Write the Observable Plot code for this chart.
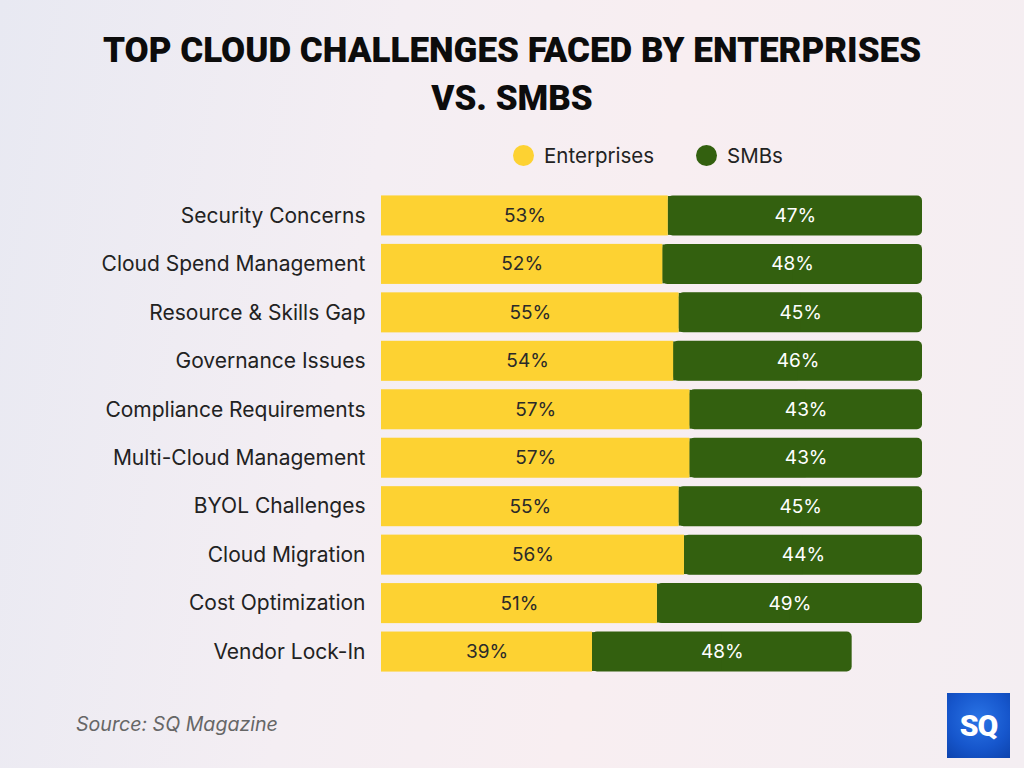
<!DOCTYPE html>
<html>
<head>
<meta charset="utf-8">
<script src="https://cdn.jsdelivr.net/npm/d3@7"></script>
<script src="https://cdn.jsdelivr.net/npm/@observablehq/plot@0.6"></script>
<style>
  html, body { margin: 0; padding: 0; }
  body {
    width: 1024px; height: 768px; overflow: hidden; position: relative;
    background: linear-gradient(100deg, #e8e9f2 0%, #f4eef3 35%, #f8eef1 60%, #f4eef2 100%);
    font-family: Inter, Roboto, "Noto Sans", sans-serif;
  }
  #title {
    position: absolute; left: 0; top: 27px; width: 1024px; text-align: center;
    font-family: Roboto, sans-serif; font-weight: 900; font-size: 35px; line-height: 48px;
    color: #0c0c0c;
  }
  #legend { position: absolute; top: 0; left: 0; font-size: 20.5px; color: #222; }
  #legend .item { position: absolute; top: 143px; display: flex; align-items: center; white-space: nowrap; }
  #legend .sw { width: 21px; height: 21px; border-radius: 50%; display: inline-block; margin-right: 10px; }
  #chart { position: absolute; left: 0; top: 176px; }
  #source {
    position: absolute; left: 76px; top: 712px; font-style: italic; font-size: 19.6px; color: #666;
  }
  #logo {
    position: absolute; left: 947px; top: 693px; width: 63px; height: 65px;
    background: radial-gradient(circle at 50% 40%, #2a74e6 0%, #1656cc 60%, #0d43ad 100%);
    color: #fff; font-family: Roboto, sans-serif; font-weight: 900; font-size: 30px;
    display: flex; align-items: center; justify-content: center; letter-spacing: -1px;
  }
</style>
</head>
<body>
<div id="title">TOP CLOUD CHALLENGES FACED BY ENTERPRISES<br>VS. SMBS</div>
<div id="legend"></div>
<div id="chart"></div>
<div id="source">Source: SQ Magazine</div>
<div id="logo">SQ</div>
<script>
// Challenges and the share of respondents (%) in each segment
const challenges = [
  "Security Concerns",
  "Cloud Spend Management",
  "Resource & Skills Gap",
  "Governance Issues",
  "Compliance Requirements",
  "Multi-Cloud Management",
  "BYOL Challenges",
  "Cloud Migration",
  "Cost Optimization",
  "Vendor Lock-In"
];
const enterprises = [53, 52, 55, 54, 57, 57, 55, 56, 51, 39];
const smbs = [47, 48, 45, 46, 43, 43, 45, 44, 49, 48];

const seriesNames = ["Enterprises", "SMBs"];
const seriesColors = ["#fdd232", "#33600f"];
const legendLeft = [513, 696];

const rows = challenges.map((c, i) => ({
  challenge: c,
  ent: enterprises[i],
  smb: smbs[i],
  total: enterprises[i] + smbs[i]
}));

// Legend
const legend = document.getElementById("legend");
seriesNames.forEach((name, i) => {
  const item = document.createElement("div");
  item.className = "item";
  item.style.left = legendLeft[i] + "px";
  item.innerHTML = `<span class="sw" style="background:${seriesColors[i]}"></span><span>${name}</span>`;
  legend.appendChild(item);
});

const font = "Inter, Roboto, sans-serif";
const chart = Plot.plot({
  width: 1024,
  height: 520,
  marginLeft: 381,
  marginRight: 102,
  marginTop: 11,
  marginBottom: 16,
  style: { background: "transparent", fontFamily: font },
  x: { domain: [0, 100], axis: null },
  y: { domain: challenges, padding: 0.174, round: false, label: null },
  marks: [
    Plot.axisY({ tickSize: 0, tickPadding: 16, fontSize: 21, color: "#222", label: null }),
    // SMB segment: rounded at its right end, squared off on its left half
    Plot.barX(rows, { y: "challenge", x1: "ent", x2: "total", fill: seriesColors[1], rx: 5 }),
    Plot.barX(rows, { y: "challenge", x1: "ent", x2: d => d.ent + d.smb / 2, fill: seriesColors[1], insetTop: 0.6, insetBottom: 0.6 }),
    Plot.barX(rows, { y: "challenge", x1: 0, x2: "ent", fill: seriesColors[0] }),
    Plot.text(rows, { y: "challenge", x: d => d.ent / 2, text: d => `${d.ent}%`, fill: "#2a2a2a", fontSize: 19 }),
    Plot.text(rows, { y: "challenge", x: d => d.ent + d.smb / 2, text: d => `${d.smb}%`, fill: "#ffffff", fontSize: 19 })
  ]
});
document.getElementById("chart").appendChild(chart);
</script>
</body>
</html>
